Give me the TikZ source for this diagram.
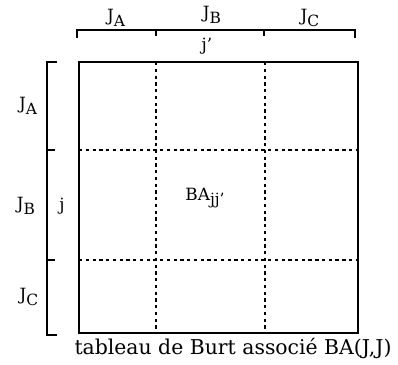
\documentclass[tikz,border=0pt]{standalone}
\usepackage{fontspec}
\setmainfont{DejaVu Serif}
\usepackage{tikz}
\usetikzlibrary{positioning}
\newcommand{\lowsub}[2]{#1\raisebox{-0.55ex}{\fontsize{11}{12}\selectfont #2}}
\tikzset{
  frame/.style={line width=1.5pt},
  cut/.style={line width=1.2pt,dash pattern=on 2.4pt off 2.4pt},
  brace/.style={line width=1.5pt},
  lab/.style={font=\fontsize{12}{13}\selectfont,inner sep=0pt},
  caption/.style={font=\fontsize{14.5}{16}\selectfont,inner sep=0pt}
}
\begin{document}
\begin{tikzpicture}[x=0.025cm,y=-0.025cm]
  \useasboundingbox (0,0) rectangle (398,364);
  % braces over the columns and beside the rows
  \draw[brace] (77,38) -- (77,30) -- (355,30) -- (355,38);
  \foreach \x in {156,264} \draw[brace] (\x,30) -- (\x,36);
  \draw[brace] (57,62) -- (47,62) -- (47,335) -- (57,335);
  \foreach \y in {150,260} \draw[brace] (47,\y) -- (55,\y);
  % the table and its blocks
  \draw[frame] (79,62) rectangle (358,333);
  \foreach \x in {156,265} \draw[cut] (\x,62) -- (\x,333);
  \foreach \y in {150,260} \draw[cut] (79,\y) -- (358,\y);
  % labels
  \node[lab] (colA) at (116,18) {\lowsub{J}{A}};
  \node[lab] (colB) at (212,15) {\lowsub{J}{B}};
  \node[lab] (colC) at (310,18) {\lowsub{J}{C}};
  \node[lab] (colj) at (207,46) {j'};
  \node[lab] (rowA) at (28,106) {\lowsub{J}{A}};
  \node[lab] (rowB) at (26,206) {\lowsub{J}{B}};
  \node[lab] (rowj) at (62,206) {j};
  \node[lab] (rowC) at (29,297) {\lowsub{J}{C}};
  \node[lab] (blk) at (205,198) {\lowsub{BA}{jj'}};
  \node[caption] (title) at (233,348) {tableau de Burt associé BA(J,J)};
\end{tikzpicture}
\end{document}
